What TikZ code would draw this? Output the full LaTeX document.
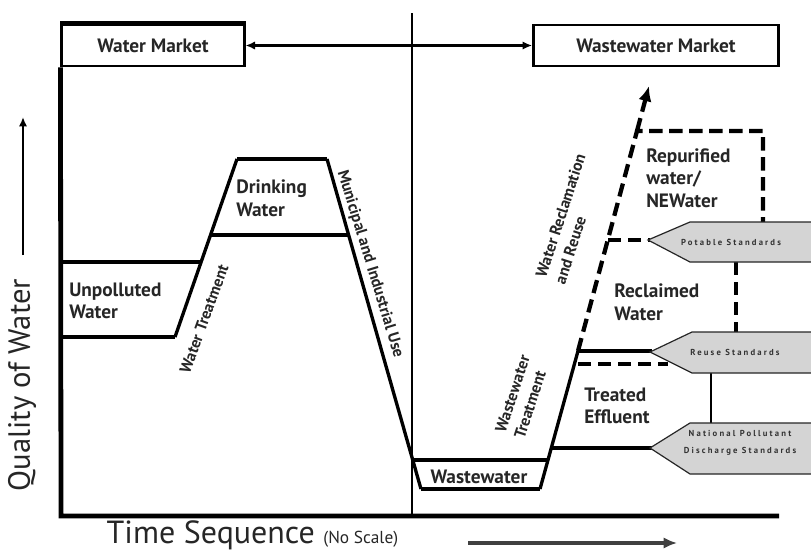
\documentclass[tikz,border=0pt]{standalone}
\usepackage{fontspec}
\setmainfont{PT Sans}
\usetikzlibrary{arrows.meta}
\tikzset{>={Latex[width=2.2mm,length=2.5mm]}}
\tikzset{thickline/.style={line width=3.6pt},
	slantline/.style={line width=2.5pt},
	thinline/.style={line width=1.6pt},
	dashline/.style={line width=3.2pt, dash pattern=on 10pt off 5pt},
	mkt/.style={draw, line width=1.8pt, inner sep=0pt, text=black!85, font=\bfseries\fontsize{14.5}{16}\selectfont},
	lbl/.style={inner sep=0pt, align=left, text=black!85, font=\bfseries\fontsize{14.5}{17}\selectfont},
	tilt/.style={inner sep=0pt, text=black!85, font=\bfseries\fontsize{12}{15}\selectfont},
	stdbox/.style={fill=black!17, draw=black!85, line width=0.9pt},
	stdtxt/.style={inner sep=0pt, align=center, text=black!80, font=\bfseries\fontsize{6.5}{13}\selectfont\addfontfeature{LetterSpace=25}}}

\begin{document}
\begin{tikzpicture}[x=0.75pt,y=-0.75pt]
		\useasboundingbox (0,0) rectangle (811,554);
		
		% markets
		\node[mkt, minimum width=137pt, minimum height=31pt] (wm) at (153,45.5) {Water Market};
		\node[mkt, minimum width=184pt, minimum height=31pt] (wwm) at (656,45.5) {Wastewater Market};
		\draw[thickline] (wm.north west) -- (wm.north east);
		\draw[<->, line width=2pt] (wm) -- (wwm);
		
		% axes
		\draw[thickline] (wm.south west) -- (61,516) -- (779,516);
		\draw[thinline] (412,13) -- (412,516);
		\coordinate (ylo) at (23,255);
		\coordinate (yhi) at (23,117);
		\draw[->, line width=2pt] (ylo) -- (yhi);
		\node[rotate=90, text=black!85, font=\fontsize{23}{26}\selectfont] (qw) at (22,385) {Quality of Water};
		\node[text=black!85, anchor=west, font=\fontsize{24}{26}\selectfont] (ts) at (102,535) {Time Sequence {\fontsize{13}{14}\selectfont(No Scale)}};
		\coordinate (xlo) at (468,543);
		\coordinate (xhi) at (677,543);
		\draw[-{Latex[length=3.5mm,width=3mm]}, line width=3pt, black!75] (xlo) -- (xhi);
		
		% water side
		\draw[thickline] (61,262) -- (202,262);
		\draw[thickline] (61,337) -- (175,337);
		\draw[slantline] (175,337) -- (237,159);
		\draw[thickline] (237,159) -- (327,159);
		\draw[thickline] (210,235) -- (348,235);
		\draw[slantline] (327,159) -- (421,489);
		
		% wastewater side
		\draw[slantline] (413,460) -- (547,460);
		\draw[slantline] (421,489) -- (540,489);
		\draw[slantline] (540,489) -- (578,351);
		\draw[thickline] (551,448) -- (652,448);
		\draw[thickline] (578,351) -- (652,351);
		\draw[dashline] (578,364) -- (668,364);
		\draw[dashline] (578,351) -- (637,131) -- (763,131) -- (763,222);
		\draw[dashline, -{Latex[length=4mm,width=3.5mm]}] (637,131) -- (649,86);
		\draw[dashline] (608,240) -- (650,240);
		\draw[dashline] (736,262) -- (736,332);
		\draw[thinline] (711,373) -- (711,423);
		
		% standards
		\draw[stdbox] (648,240) -- (690,222) -- (815,222) -- (815,262) -- (690,262) -- cycle;
		\draw[stdbox] (650,352) -- (692,332) -- (815,332) -- (815,373) -- (692,373) -- cycle;
		\draw[stdbox] (650,448) -- (690,423) -- (815,423) -- (815,474) -- (690,474) -- cycle;
		\node[stdtxt] (ps) at (731,242) {Potable Standards};
		\node[stdtxt] (rs) at (735,352) {Reuse Standards};
		\node[stdtxt] (nps) at (740,443) {National Pollutant\\Discharge Standards};
		
		% labels
		\node[lbl, anchor=west] (uw) at (69,301) {Unpolluted\\Water};
		\node[lbl, anchor=west] (dw) at (236,198) {Drinking\\Water};
		\node[lbl, anchor=west] (rw) at (646,178) {Repurified\\water/\\NEWater};
		\node[lbl, anchor=west] (cw) at (614,302) {Reclaimed\\Water};
		\node[lbl, anchor=west] (te) at (584,406) {Treated\\Effluent};
		\node[lbl] (ww) at (479,477) {Wastewater};
		\node[tilt, rotate=70] (wt) at (204,319) {Water Treatment};
		\node[tilt, rotate=-73] (mi) at (370,264) {Municipal and Industrial Use};
		\node[tilt, rotate=72, align=left] (wwt) at (522,397) {Wastewater\\Treatment};
		\node[tilt, rotate=72, align=left] (wr) at (570,219) {Water Reclamation\\and Reuse};
	\end{tikzpicture}
\end{document}
